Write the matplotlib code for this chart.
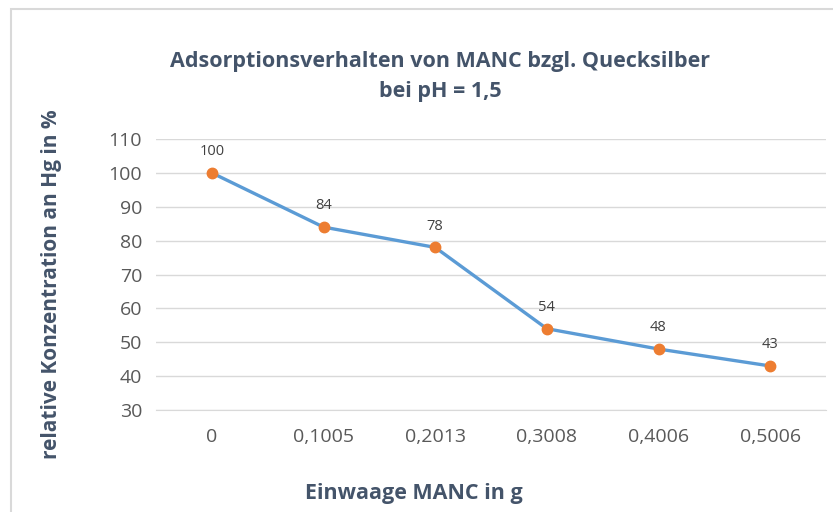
import numpy as np
import matplotlib.pyplot as plt
from matplotlib.patches import Rectangle

# Data
categories = ["0", "0,1005", "0,2013", "0,3008", "0,4006", "0,5006"]
values = [100, 84, 78, 54, 48, 43]
y_ticks = [30, 40, 50, 60, 70, 80, 90, 100, 110]

plt.rcParams['font.family'] = ['Open Sans', 'DejaVu Sans']
title_color = "#44546A"
tick_color = "#595959"

fig = plt.figure(figsize=(8.33, 5.12), dpi=100)
W, H = 833, 512

# chart border (light gray), cropped on right/bottom
fig.add_artist(Rectangle((11 / W, -0.1), 1.2, (H - 9) / H + 0.1, transform=fig.transFigure,
                         fill=False, edgecolor="#D9D9D9", linewidth=1.5))

ax = fig.add_axes([156 / W, 1 - 410 / H, (826 - 156) / W, (410 - 139) / H])
x = np.arange(len(categories))
ax.plot(x, values, color="#5B9BD5", linewidth=2.4, marker="o", markersize=7.5,
        markerfacecolor="#ED7D31", markeredgecolor="#ED7D31", zorder=3)

for xi, v in zip(x, values):
    ax.annotate(str(v), (xi, v), xytext=(0, 10), textcoords="offset points",
                ha="center", va="bottom", fontsize=10.5, color="#404040")

ax.set_xlim(-0.5, len(categories) - 0.5)
ax.set_ylim(30, 110)
ax.set_yticks(y_ticks)
ax.set_xticks(x)
ax.set_xticklabels(categories)
ax.grid(axis="y", color="#D9D9D9", linewidth=1)
ax.set_axisbelow(True)
for s in ["top", "right", "left"]:
    ax.spines[s].set_visible(False)
ax.spines["bottom"].set_color("#D9D9D9")
ax.tick_params(axis="both", length=0, labelsize=14, colors=tick_color, pad=10)
ax.tick_params(axis="x", pad=13)

fig.text(440 / W, 1 - 62 / H, "Adsorptionsverhalten von MANC bzgl. Quecksilber",
         ha="center", va="center", fontsize=15.5, fontweight="bold", color=title_color)
fig.text(440 / W, 1 - 92 / H, "bei pH = 1,5",
         ha="center", va="center", fontsize=15.5, fontweight="bold", color=title_color)
fig.text(414 / W, 1 - 493 / H, "Einwaage MANC in g",
         ha="center", va="center", fontsize=15.5, fontweight="bold", color=title_color)
fig.text(52 / W, 1 - 284 / H, "relative Konzentration an Hg in %", rotation=90,
         ha="center", va="center", fontsize=15, fontweight="bold", color=title_color)

fig.savefig("out.png", dpi=100)
